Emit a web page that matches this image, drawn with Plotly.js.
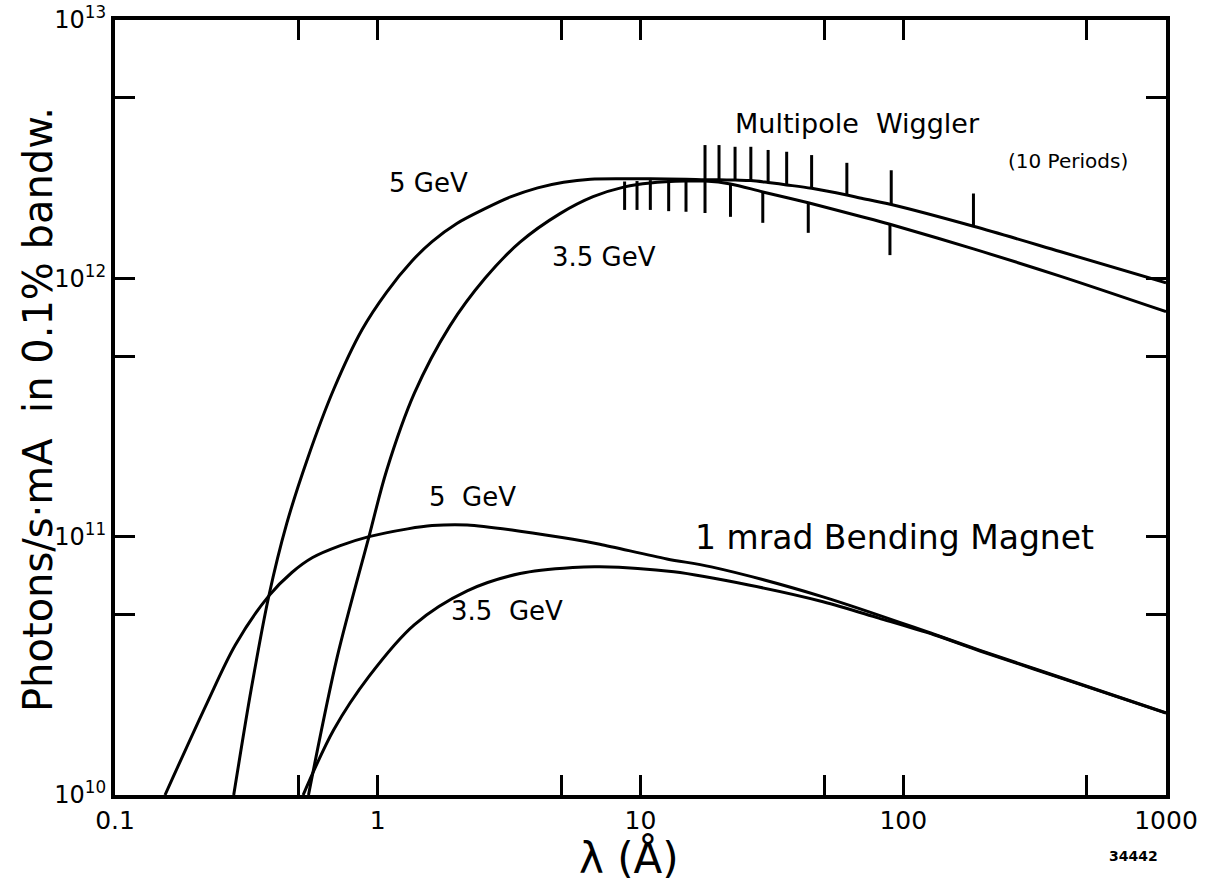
<!DOCTYPE html>
<html>
<head>
<meta charset="utf-8">
<script src="https://cdn.plot.ly/plotly-3.0.1.min.js"></script>
<style>
  html, body { margin: 0; padding: 0; background: #fff; }
  #chart { width: 1212px; height: 882px; }
</style>
</head>
<body>
<div id="chart"></div>
<script>
// ---- Data (wavelength in Å, photons/s·mA in 0.1% bandwidth) ----
// Multipole wiggler, 5 GeV
const wig5X = [0.283, 0.33, 0.385, 0.45, 0.54, 0.68, 0.87, 1.08, 1.35, 1.61, 2.0, 2.56, 3.2, 4.06, 5.1, 6.45, 8.7, 10.9, 14.9, 17.6, 19.9, 22.9, 26.3, 30.6, 36, 44.8, 61, 68.4, 90, 185, 395, 1000];
const wig5Y = [1e10, 2.57e10, 5.89e10, 1.12e11, 2.0e11, 3.72e11, 6.31e11, 8.83e11, 1.167e12, 1.387e12, 1.63e12, 1.86e12, 2.065e12, 2.24e12, 2.355e12, 2.42e12, 2.43e12, 2.43e12, 2.42e12, 2.41e12, 2.41e12, 2.40e12, 2.39e12, 2.35e12, 2.30e12, 2.23e12, 2.10e12, 2.047e12, 1.93e12, 1.59e12, 1.27e12, 9.6e11];

// Multipole wiggler, 3.5 GeV
const wig35X = [0.545, 0.7, 0.926, 1.08, 1.38, 1.88, 2.56, 3.48, 4.94, 6.6, 8.7, 10.9, 14.9, 17.6, 22.0, 29.2, 43.5, 68.4, 89, 185, 395, 1000];
const wig35Y = [1e10, 3.4e10, 1.0e11, 1.8e11, 3.6e11, 6.53e11, 1.0e12, 1.38e12, 1.78e12, 2.07e12, 2.26e12, 2.34e12, 2.38e12, 2.38e12, 2.32e12, 2.16e12, 1.96e12, 1.74e12, 1.62e12, 1.30e12, 1.02e12, 7.43e11];

// 1 mrad bending magnet, 5 GeV
const bm5X = [0.155, 0.224, 0.287, 0.385, 0.47, 0.565, 0.72, 0.926, 1.3, 1.61, 2.19, 3.48, 5.53, 7.0, 12.6, 18.6, 49.5, 131, 196, 471, 1000];
const bm5Y = [1e10, 2.27e10, 3.81e10, 5.9e10, 7.25e10, 8.3e10, 9.23e10, 1.0e11, 1.072e11, 1.104e11, 1.11e11, 1.05e11, 9.77e10, 9.35e10, 8.2e10, 7.64e10, 5.85e10, 4.19e10, 3.63e10, 2.69e10, 2.08e10];

// 1 mrad bending magnet, 3.5 GeV
const bm35X = [0.52, 0.68, 0.926, 1.38, 2.19, 3.48, 5.53, 7.0, 13.4, 25.8, 49.5, 80.7, 131, 196, 471, 1000];
const bm35Y = [1e10, 1.79e10, 2.88e10, 4.57e10, 6.17e10, 7.2e10, 7.6e10, 7.65e10, 7.31e10, 6.5e10, 5.6e10, 4.84e10, 4.17e10, 3.61e10, 2.68e10, 2.075e10];

// Harmonic marks on the wiggler curves (10 periods)
const harm5X  = [17.6, 19.9, 22.9, 26.3, 30.6, 36, 44.8, 61, 90, 185];
const harm5Lo = [2.41e12, 2.41e12, 2.40e12, 2.39e12, 2.35e12, 2.30e12, 2.23e12, 2.10e12, 1.93e12, 1.59e12];
const harm5Hi = [3.28e12, 3.28e12, 3.23e12, 3.23e12, 3.14e12, 3.09e12, 3.0e12, 2.80e12, 2.62e12, 2.13e12];

const harm35X  = [8.7, 9.7, 10.9, 12.8, 14.9, 17.6, 22.0, 29.2, 43.5, 89];
const harm35Hi = [2.37e12, 2.38e12, 2.40e12, 2.40e12, 2.40e12, 2.40e12, 2.32e12, 2.16e12, 1.96e12, 1.62e12];
const harm35Lo = [1.84e12, 1.84e12, 1.84e12, 1.82e12, 1.81e12, 1.79e12, 1.73e12, 1.64e12, 1.50e12, 1.23e12];

// Axis ticks
const xTickVals = [0.1, 0.5, 1, 5, 10, 50, 100, 500, 1000];
const xTickText = ['0.1', '', '1', '', '10', '', '100', '', '1000'];
const yTickVals = [1e10, 5e10, 1e11, 5e11, 1e12, 5e12, 1e13];
const yTickText = ['10<sup>10</sup>', '', '10<sup>11</sup>', '', '10<sup>12</sup>', '', '10<sup>13</sup>'];

// ---- Build segments for the harmonic marks ----
function segments(xs, lo, hi) {
  const x = [], y = [];
  xs.forEach((v, i) => { x.push(v, v, null); y.push(lo[i], hi[i], null); });
  return {x, y};
}
const s5 = segments(harm5X, harm5Lo, harm5Hi);
const s35 = segments(harm35X, harm35Lo, harm35Hi);

const lineStyle = {color: '#000', width: 3, shape: 'spline', smoothing: 0.9};
const FONT = 'DejaVu Sans, Liberation Sans, sans-serif';

const traces = [
  {x: wig5X, y: wig5Y, mode: 'lines', line: lineStyle, name: 'Wiggler 5 GeV'},
  {x: wig35X, y: wig35Y, mode: 'lines', line: lineStyle, name: 'Wiggler 3.5 GeV'},
  {x: bm5X, y: bm5Y, mode: 'lines', line: lineStyle, name: 'BM 5 GeV'},
  {x: bm35X, y: bm35Y, mode: 'lines', line: lineStyle, name: 'BM 3.5 GeV'},
  {x: s5.x, y: s5.y, mode: 'lines', line: {color: '#000', width: 3}, connectgaps: false, name: 'harmonics 5 GeV'},
  {x: s35.x, y: s35.y, mode: 'lines', line: {color: '#000', width: 3}, connectgaps: false, name: 'harmonics 3.5 GeV'}
];

const L = 115, R = 1166, T = 20, B = 795;
const px = v => (v - L) / (R - L);
const py = v => (B - v) / (B - T);

function ann(text, x, y, size, extra) {
  return Object.assign({text, x: px(x), y: py(y), xref: 'paper', yref: 'paper',
    showarrow: false, xanchor: 'center', yanchor: 'middle',
    font: {family: FONT, size, color: '#000'}}, extra || {});
}

const layout = {
  width: 1212, height: 882,
  margin: {l: L, r: 1212 - R, t: T, b: 882 - B},
  paper_bgcolor: '#fff', plot_bgcolor: '#fff',
  showlegend: false,
  font: {family: FONT, color: '#000'},
  xaxis: {
    type: 'log', range: [-1, 3],
    tickmode: 'array', tickvals: xTickVals, ticktext: xTickText,
    ticks: 'inside', ticklen: 20, tickwidth: 3, tickcolor: '#000',
    showline: true, linewidth: 4, linecolor: '#000', mirror: 'ticks',
    showgrid: false, zeroline: false,
    tickfont: {family: FONT, size: 25, color: '#000'}
  },
  yaxis: {
    type: 'log', range: [10, 13],
    tickmode: 'array', tickvals: yTickVals, ticktext: yTickText,
    ticks: 'inside', ticklen: 20, tickwidth: 3, tickcolor: '#000',
    showline: true, linewidth: 4, linecolor: '#000', mirror: 'ticks',
    showgrid: false, zeroline: false,
    tickfont: {family: FONT, size: 24, color: '#000'}
  },
  annotations: [
    // axis titles
    ann('λ (Å)', 629, 858, 42),
    ann('Photons/s·mA  in 0.1% bandw.', 38, 410, 40, {textangle: -90}),
    // curve labels
    ann('5 GeV', 428, 183, 26),
    ann('3.5 GeV', 604, 257, 26),
    ann('Multipole  Wiggler', 857, 124, 27),
    ann('(10 Periods)', 1068, 161, 20),
    ann('5  GeV', 472, 497, 26),
    ann('3.5  GeV', 507, 611, 26),
    ann('1 mrad Bending Magnet', 894, 537, 33),
    ann('<b>34442</b>', 1133, 856, 14)
  ]
};

Plotly.newPlot('chart', traces, layout, {staticPlot: true, displayModeBar: false});
</script>
</body>
</html>
